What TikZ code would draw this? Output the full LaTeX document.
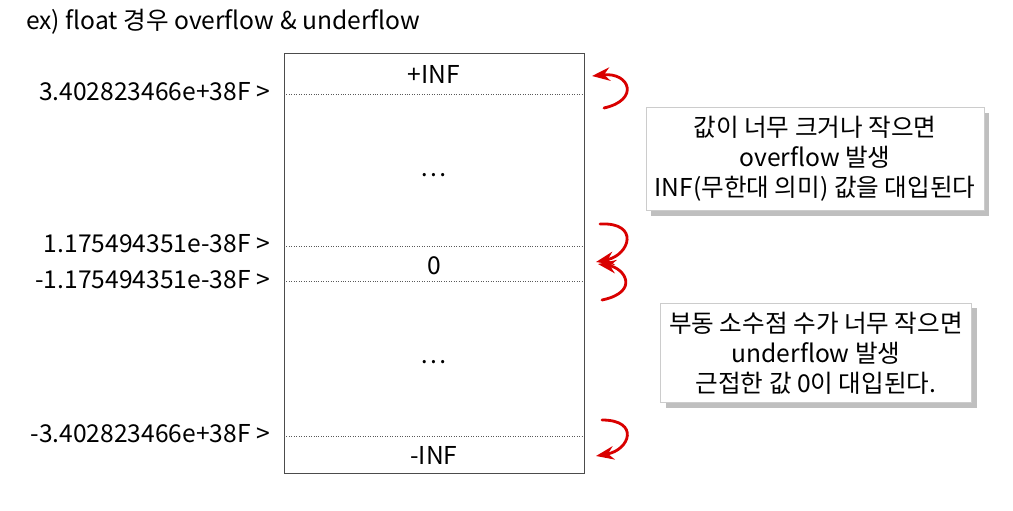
\documentclass[tikz,border=0pt]{standalone}
\usepackage{fontspec}
\setmainfont{Noto Sans CJK KR}
\usetikzlibrary{arrows.meta, shadows}

\begin{document}
\begin{tikzpicture}[x=0.02cm, y=-0.02cm, >=Stealth, font=\fontsize{14}{17}\selectfont,
  lim/.style={densely dotted, gray!70!black},
  val/.style={anchor=east},
  note/.style={draw=gray!40, fill=white, align=center, inner sep=5pt, drop shadow={opacity=.5, shadow xshift=3pt, shadow yshift=-3pt}},
  flow/.style={->, red!85!black, line width=1.6pt, line cap=round}]

\useasboundingbox (0,0) rectangle (1013,510);

\node[anchor=west] (title) at (20,22) {ex) float 경우 overflow \& underflow};

\draw[gray!60!black] (284,53) rectangle (584,473);

\coordinate (l1) at (284,94);  \coordinate (r1) at (584,94);
\coordinate (l2) at (284,246); \coordinate (r2) at (584,246);
\coordinate (l3) at (284,281); \coordinate (r3) at (584,281);
\coordinate (l4) at (284,436); \coordinate (r4) at (584,436);
\foreach \i in {1,...,4} \draw[lim] (l\i) -- (r\i);

\node[val] (v1) at (276,92)  {3.402823466e+38F >};
\node[val] (v2) at (276,244) {1.175494351e-38F >};
\node[val] (v3) at (276,280) {-1.175494351e-38F >};
\node[val] (v4) at (276,434) {-3.402823466e+38F >};

\node (pinf) at (434,74)  {+INF};
\node (dots1) at (434,175) {\dots};
\node (zero) at (434,266) {0};
\node (dots2) at (434,362) {\dots};
\node (minf) at (434,455) {-INF};

\node[note] (over) at (815,159) {값이 너무 크거나 작으면\\overflow 발생\\INF(무한대 의미) 값을 대입된다};
\node[note] (under) at (816,353) {부동 소수점 수가 너무 작으면\\underflow 발생\\근접한 값 0이 대입된다.};

% hand drawn arrows
\coordinate (a1) at (604,108); \coordinate (t1) at (592,76);
\coordinate (a2) at (600,224); \coordinate (t2) at (596,262);
\coordinate (a3) at (602,300); \coordinate (t3) at (598,264);
\coordinate (a4) at (602,420); \coordinate (t4) at (596,456);
\draw[flow] (a1) .. controls (640,100) and (630,72) .. (t1);
\draw[flow] (a2) .. controls (640,222) and (630,255) .. (t2);
\draw[flow] (a3) .. controls (640,292) and (625,268) .. (t3);
\draw[flow] (a4) .. controls (640,420) and (630,450) .. (t4);

\end{tikzpicture}
\end{document}
